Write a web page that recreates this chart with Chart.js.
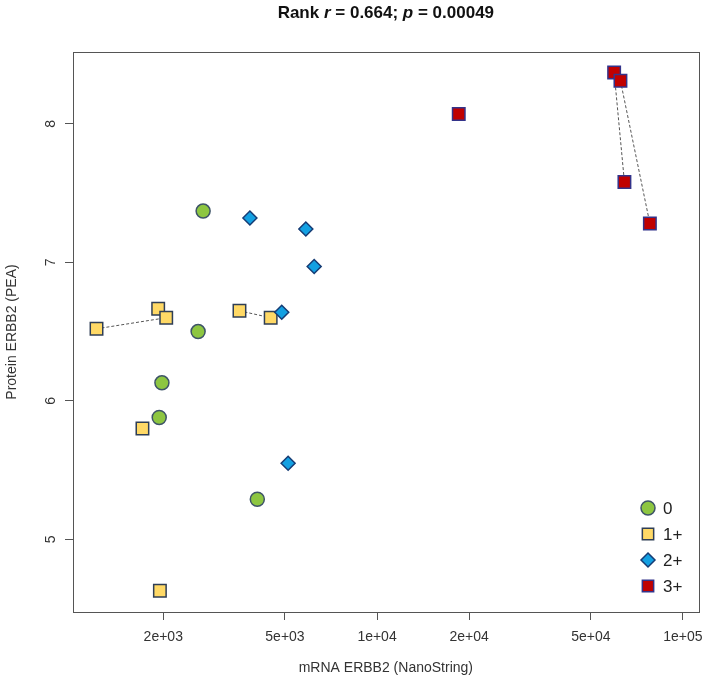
<!DOCTYPE html>
<html>
<head>
<meta charset="utf-8">
<script src="https://cdn.jsdelivr.net/npm/chart.js@4.4.1/dist/chart.umd.min.js"></script>
<style>
  html, body { margin: 0; padding: 0; background: #fff; }
  #wrap { width: 709px; height: 681px; }
</style>
</head>
<body>
<div id="wrap"><canvas id="erbbChart"></canvas></div>
<script>
// HER2 IHC groups: mRNA ERBB2 (NanoString) vs protein ERBB2 (PEA)
const groupNames = ["0", "1+", "2+", "3+"];

const grade0Mrna = [2700, 2600, 1980, 1940, 4060];
const grade0Protein = [7.37, 6.50, 6.13, 5.88, 5.29];

const grade1Mrna = [1925, 2045, 1210, 3550, 4490, 1710, 1950];
const grade1Protein = [6.665, 6.60, 6.52, 6.65, 6.60, 5.80, 4.63];

const grade2Mrna = [3840, 5850, 6230, 4880, 5120];
const grade2Protein = [7.32, 7.24, 6.97, 6.64, 5.55];

const grade3Mrna = [18500, 59600, 62500, 64400, 78000];
const grade3Protein = [8.07, 8.37, 8.31, 7.58, 7.28];

// pairs joined with dotted lines
const pairMrna = [[1210, 2045], [3550, 4490], [59600, 64400], [62500, 78000]];
const pairProtein = [[6.52, 6.60], [6.65, 6.60], [8.37, 7.58], [8.31, 7.28]];

const xTicks = [2000, 5000, 10000, 20000, 50000, 100000];
const yTicks = [5, 6, 7, 8];

const FONT = '"Liberation Sans", Arial, sans-serif';
const styles = {
  "0":  { fill: "#8DC641", border: "#3E5468", shape: "circle", radius: 7 },
  "1+": { fill: "#FFD966", border: "#2F3E55", shape: "rect", radius: 8.8 },
  "2+": { fill: "#13A0E2", border: "#163C74", shape: "rectRot", radius: 7 },
  "3+": { fill: "#C00000", border: "#33338A", shape: "rect", radius: 8.8 }
};

function toPoints(xs, ys) {
  return xs.map((x, i) => ({ x: x, y: ys[i] }));
}

function sciLabel(v) {
  const s = Number(v).toExponential(0); // e.g. 2e+3
  const parts = s.split("e");
  const sign = parts[1][0];
  let exp = parts[1].slice(1);
  if (exp.length < 2) exp = "0" + exp;
  return parts[0] + "e" + sign + exp;
}

function pointSet(name, xs, ys, order) {
  const st = styles[name];
  return {
    label: name,
    data: toPoints(xs, ys),
    pointStyle: st.shape,
    pointRadius: st.radius,
    pointHoverRadius: st.radius,
    backgroundColor: st.fill,
    borderColor: st.border,
    borderWidth: 1.5,
    order: order
  };
}

const datasets = [
  pointSet("3+", grade3Mrna, grade3Protein, 0),
  pointSet("2+", grade2Mrna, grade2Protein, 1),
  pointSet("1+", grade1Mrna, grade1Protein, 2),
  pointSet("0", grade0Mrna, grade0Protein, 3)
];

pairMrna.forEach((xs, i) => {
  datasets.push({
    type: "line",
    label: "pair" + i,
    data: toPoints(xs, pairProtein[i]),
    borderColor: "#555555",
    borderWidth: 1,
    borderDash: [3, 2],
    pointRadius: 0,
    fill: false,
    order: 4
  });
});

function drawMarker(ctx, shape, x, y, r) {
  ctx.beginPath();
  if (shape === "circle") {
    ctx.arc(x, y, r, 0, Math.PI * 2);
  } else if (shape === "rect") {
    const h = r * Math.SQRT1_2;
    ctx.rect(x - h, y - h, 2 * h, 2 * h);
  } else {
    ctx.moveTo(x, y - r);
    ctx.lineTo(x + r, y);
    ctx.lineTo(x, y + r);
    ctx.lineTo(x - r, y);
    ctx.closePath();
  }
  ctx.fill();
  ctx.stroke();
}

const decorations = {
  id: "decorations",
  afterDraw(chart) {
    const { ctx, chartArea: a, scales } = chart;
    ctx.save();

    // frame around plot region
    ctx.strokeStyle = "#555555";
    ctx.lineWidth = 1;
    ctx.strokeRect(Math.round(a.left) + 0.5, Math.round(a.top) + 0.5,
      Math.round(a.right - a.left), Math.round(a.bottom - a.top));

    // y tick labels, parallel to the axis
    ctx.fillStyle = "#333333";
    ctx.font = "14px " + FONT;
    ctx.textAlign = "center";
    ctx.textBaseline = "middle";
    yTicks.forEach(v => {
      const y = scales.y.getPixelForValue(v);
      ctx.save();
      ctx.translate(a.left - 22, y);
      ctx.rotate(-Math.PI / 2);
      ctx.fillText(String(v), 0, 0);
      ctx.restore();
    });

    // title with italic r and p
    const parts = [
      ["Rank ", false], ["r", true], [" = 0.664; ", false], ["p", true], [" = 0.00049", false]
    ];
    const fontOf = it => (it ? "italic " : "") + "bold 17px " + FONT;
    let total = 0;
    parts.forEach(p => { ctx.font = fontOf(p[1]); total += ctx.measureText(p[0]).width; });
    let tx = (a.left + a.right) / 2 - total / 2;
    ctx.fillStyle = "#111111";
    ctx.textAlign = "left";
    parts.forEach(p => {
      ctx.font = fontOf(p[1]);
      ctx.fillText(p[0], tx, 13);
      tx += ctx.measureText(p[0]).width;
    });

    // legend in the lower right corner
    const lx = 648, ly0 = 508, step = 26;
    ctx.lineWidth = 1.5;
    groupNames.forEach((name, i) => {
      const st = styles[name];
      const y = ly0 + i * step;
      ctx.fillStyle = st.fill;
      ctx.strokeStyle = st.border;
      drawMarker(ctx, st.shape, lx, y, st.shape === "rect" ? 8 : 7);
      ctx.fillStyle = "#222222";
      ctx.font = "17px " + FONT;
      ctx.textAlign = "left";
      ctx.fillText(name, 663, y + 1);
    });

    ctx.restore();
  }
};

new Chart(document.getElementById("erbbChart"), {
  type: "scatter",
  data: { datasets: datasets },
  options: {
    responsive: true,
    maintainAspectRatio: false,
    animation: false,
    layout: { padding: { top: 52, right: 10, left: 0, bottom: 0 } },
    plugins: {
      legend: { display: false },
      tooltip: { enabled: false },
      title: { display: false }
    },
    scales: {
      x: {
        type: "logarithmic",
        min: 1013.7,
        max: 112650,
        afterBuildTicks: scale => { scale.ticks = xTicks.map(v => ({ value: v })); },
        afterFit: scale => {
          scale.height = 69;
          scale.paddingLeft = 0;
          scale.paddingRight = 0;
        },
        grid: { display: true, drawOnChartArea: false, drawTicks: true, tickLength: 8, color: "#555555" },
        border: { display: false },
        ticks: {
          color: "#333333",
          font: { family: FONT, size: 14 },
          padding: 9,
          maxRotation: 0,
          autoSkip: false,
          callback: v => sciLabel(v)
        },
        title: {
          display: true,
          text: "mRNA ERBB2 (NanoString)",
          color: "#333333",
          font: { family: FONT, size: 14 },
          padding: { top: 0, bottom: 4 }
        }
      },
      y: {
        type: "linear",
        min: 4.476,
        max: 8.518,
        afterBuildTicks: scale => { scale.ticks = yTicks.map(v => ({ value: v })); },
        afterFit: scale => {
          scale.width = 73;
          scale.paddingTop = 0;
          scale.paddingBottom = 0;
        },
        grid: { display: true, drawOnChartArea: false, drawTicks: true, tickLength: 8, color: "#555555" },
        border: { display: false },
        ticks: { display: false },
        title: {
          display: true,
          text: "Protein ERBB2 (PEA)",
          color: "#333333",
          font: { family: FONT, size: 14 },
          padding: { top: 4, bottom: 0 }
        }
      }
    }
  },
  plugins: [decorations]
});
</script>
</body>
</html>
